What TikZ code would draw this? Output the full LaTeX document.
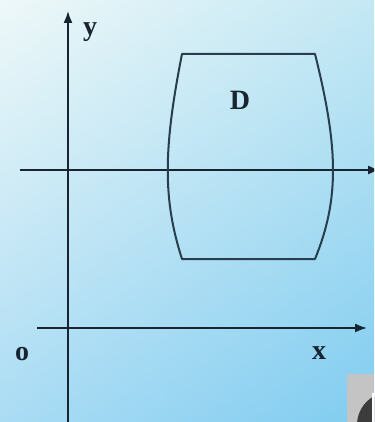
\documentclass[tikz,border=0pt]{standalone}
\usepackage{fontspec}
\setmainfont{Liberation Serif}
\usepackage{tikz}
\usetikzlibrary{arrows.meta, shadings}
\definecolor{bgtl}{RGB}{238,248,248}
\definecolor{bgtr}{RGB}{196,232,244}
\definecolor{bgbl}{RGB}{170,220,244}
\definecolor{bgbr}{RGB}{128,204,240}
\definecolor{inkcol}{RGB}{24,36,48}
\definecolor{tabgray}{RGB}{196,196,196}
\definecolor{dotgray}{RGB}{60,60,60}

\begin{document}
\begin{tikzpicture}[x=1pt, y=-1pt,
    axisline/.style={draw=inkcol, line width=1.7pt},
    axisarrow/.style={axisline, -{Latex[length=12pt,width=9pt]}},
    boundline/.style={draw=inkcol!85!bgbr, line width=2pt, line join=round},
    lbl/.style={inner sep=0pt, text=inkcol, font=\fontsize{28}{28}\selectfont\bfseries}]
  % background
  \shade[upper left=bgtl, upper right=bgtr, lower left=bgbl, lower right=bgbr]
    (0,0) rectangle (374,422);
  \useasboundingbox (0,0) rectangle (374,422);
  \clip (0,0) rectangle (374,422);

  % axes
  \coordinate (ybot) at (68,424);
  \coordinate (ytop) at (68,11);
  \coordinate (xleft) at (37,328);
  \coordinate (xright) at (367,328);
  \coordinate (midleft) at (20,170);
  \coordinate (midright) at (380,170);
  \draw[axisarrow] (ybot) -- (ytop);
  \draw[axisarrow] (xleft) -- (xright);
  \draw[axisarrow] (midleft) -- (midright);

  % region D
  \coordinate (tl) at (182,54);
  \coordinate (tr) at (315,54);
  \coordinate (br) at (315,259);
  \coordinate (bl) at (182,259);
  \draw[boundline] (tl) -- (tr)
    .. controls (339,150) and (339,200) .. (br) -- (bl)
    .. controls (163,200) and (163,150) .. cycle;

  % labels
  \node[lbl] (ylab) at (90,32) {y};
  \node[lbl] (dlab) at (240,100) {D};
  \node[lbl] (olab) at (22,354) {o};
  \node[lbl] (xlab) at (319,353) {x};

  % corner tab
  \fill[tabgray] (347,374) rectangle (374,422);
  \fill[dotgray] (390,425) circle (33);
  \fill[white] (372,393) rectangle (374,422);
\end{tikzpicture}
\end{document}
